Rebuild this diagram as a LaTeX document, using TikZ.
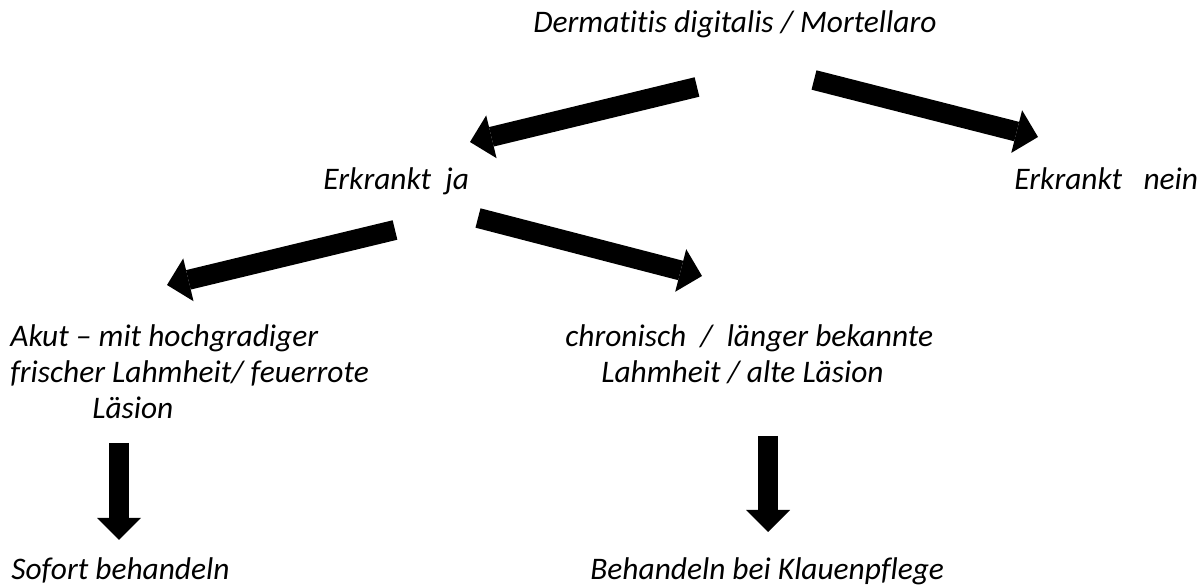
\documentclass[tikz,border=0pt]{standalone}
\usepackage{fontspec}
\setmainfont{Carlito}[Ligatures=NoCommon]
\usetikzlibrary{arrows.meta}
\tikzset{
	txt/.style        = {inner sep=0pt, anchor=base west, align=left,
		font=\fontsize{15.7}{18}\selectfont\itshape},
	blockarrow/.style = {line width=10pt,
		-{Triangle[length=11pt, width=22pt, line width=0pt]}}
}

\begin{document}
\begin{tikzpicture}[x=0.5pt, y=-0.5pt]
	\useasboundingbox (0,0) rectangle (1201,587);

	\draw
	% Texts of the tree (multi-line nodes sit on their last line)
	node at (533,33) [txt] (derm) {Dermatitis digitalis / Mortellaro}
	node at (323,190) [txt] (ja) {Erkrankt\ \ ja}
	node at (1014,190) [txt] (nein) {Erkrankt\ \ \ nein}
	node at (10,419) [txt] (akut) {Akut -- mit hochgradiger\\frischer Lahmheit/ feuerrote\\\hspace*{41pt}Läsion}
	node at (565,383) [txt] (chron) {chronisch\ \ /\ \ länger bekannte\\\hspace*{18pt}Lahmheit / alte Läsion}
	node at (11,580) [txt] (sofort) {Sofort behandeln}
	node at (590,580) [txt] (klaue) {Behandeln bei Klauenpflege};

	% Ends of the arrows
	\coordinate (derm-l) at (697,87);
	\coordinate (ja-t) at (470,142);
	\coordinate (derm-r) at (814,80);
	\coordinate (nein-t) at (1038,137);
	\coordinate (ja-l) at (395,230);
	\coordinate (akut-t) at (167,285);
	\coordinate (ja-r) at (478,218);
	\coordinate (chron-t) at (702,276);
	\coordinate (akut-b) at (119,443);
	\coordinate (sofort-t) at (119,540);
	\coordinate (chron-b) at (768,436);
	\coordinate (klaue-t) at (768,532);

	\draw[blockarrow] (derm-l) -- (ja-t);
	\draw[blockarrow] (derm-r) -- (nein-t);
	\draw[blockarrow] (ja-l) -- (akut-t);
	\draw[blockarrow] (ja-r) -- (chron-t);
	\draw[blockarrow] (akut-b) -- (sofort-t);
	\draw[blockarrow] (chron-b) -- (klaue-t);

\end{tikzpicture}
\end{document}
